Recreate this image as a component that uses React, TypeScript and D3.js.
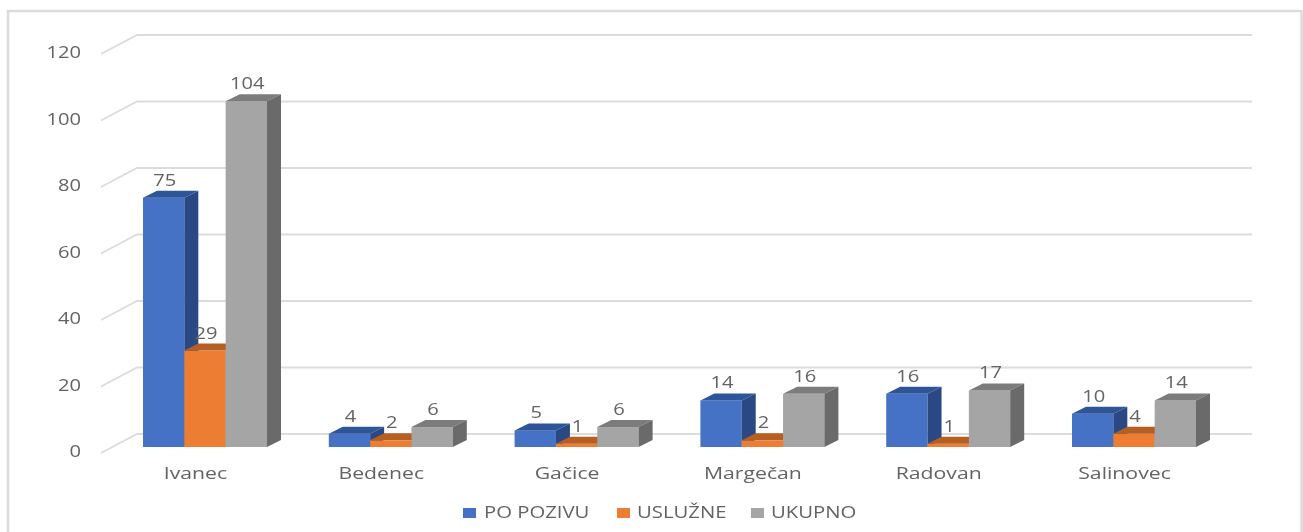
import React from "react";
import * as d3 from "d3";

const categories = ["Ivanec", "Bedenec", "Gačice", "Margečan", "Radovan", "Salinovec"];
const seriesNames = ["PO POZIVU", "USLUŽNE", "UKUPNO"];
const poPozivu = [75, 4, 5, 14, 16, 10];
const usluzne = [29, 2, 1, 2, 1, 4];
const ukupno = [104, 6, 6, 16, 17, 14];
const yTicks = [0, 20, 40, 60, 80, 100, 120];

const seriesValues = [poPozivu, usluzne, ukupno];
const front = ["#4472C4", "#ED7D31", "#A5A5A5"];
const top = ["#2F5597", "#B55E23", "#7C7C7C"];
const side = ["#2A4A84", "#A35420", "#6A6A6A"];
const legendX = [463, 617, 751];
const legendTextX = [484, 637, 771];

const DX = 14;
const DY = -7;
const y = d3.scaleLinear().domain([0, 120]).range([447, 48]);
const x = d3.scaleBand<string>().domain(categories).range([143, 143 + 185.8 * 6]).paddingInner(0);
const GROUP = 124;
const sub = d3.scaleBand<number>().domain([0, 1, 2]).range([0, GROUP]);
const poly = (p: number[][]) => "M" + p.map((q) => q.join(",")).join("L") + "Z";

const FONT = "'Open Sans', sans-serif";
const TEXT = "#636363";

function Label({ x, y, anchor = "middle", size = 15.5, sx = 1.3, fill = TEXT, children }: any) {
  return (
    <text
      transform={`translate(${x},${y}) scale(${sx},1)`}
      textAnchor={anchor}
      fontFamily={FONT}
      fontSize={size}
      fill={fill}
    >
      {children}
    </text>
  );
}

export default function App() {
  return (
    <svg
      width={1303}
      height={532}
      style={{ position: "absolute", left: 0, top: 0, display: "block", background: "#fff" }}
    >
      <defs>
        <filter id="soft" x="-5%" y="-5%" width="110%" height="110%">
          <feGaussianBlur stdDeviation="0.45" />
        </filter>
      </defs>
      <g filter="url(#soft)">
        <path d="M1301.5,532V11H8V532" fill="none" stroke="#dcdcdc" strokeWidth={2.5} />
        {yTicks.map((t) => {
          const yb = y(t) + DY * 2 + 1;
          return (
            <g key={t}>
              <path d={`M101,${yb + 19}L137,${yb}H1252`} fill="none" stroke="#dcdcdc" strokeWidth={1.8} />
              <Label x={81} y={y(t) + 10} anchor="end">{t}</Label>
            </g>
          );
        })}
        {categories.map((c, i) => (
          <g key={c}>
            {seriesValues.map((vals, s) => {
              const x0 = (x(c) as number) + (sub(s) as number);
              const x1 = x0 + sub.bandwidth();
              const yt = y(vals[i]);
              const yb = y(0);
              return (
                <g key={s}>
                  <rect x={x0} y={yt} width={x1 - x0} height={yb - yt} fill={front[s]} />
                  <path d={poly([[x0, yt], [x1, yt], [x1 + DX, yt + DY], [x0 + DX, yt + DY]])} fill={top[s]} />
                  <path d={poly([[x1, yt], [x1 + DX, yt + DY], [x1 + DX, yb + DY], [x1, yb]])} fill={side[s]} />
                </g>
              );
            })}
          </g>
        ))}
        {categories.map((c, i) =>
          seriesValues.map((vals, s) => (
            <Label key={c + s} x={(x(c) as number) + (sub(s) as number) + sub.bandwidth() / 2 + 1} y={y(vals[i]) + DY - 5}>
              {vals[i]}
            </Label>
          ))
        )}
        {categories.map((c) => (
          <Label key={c} x={(x(c) as number) + GROUP / 2 - 9.5} y={479} sx={1.37}>{c}</Label>
        ))}
        {seriesNames.map((n, s) => (
          <g key={n}>
            <rect x={legendX[s]} y={508} width={13} height={10} fill={front[s]} />
            <Label x={legendTextX[s]} y={518} anchor="start" sx={1.31}>{n}</Label>
          </g>
        ))}
      </g>
    </svg>
  );
}
